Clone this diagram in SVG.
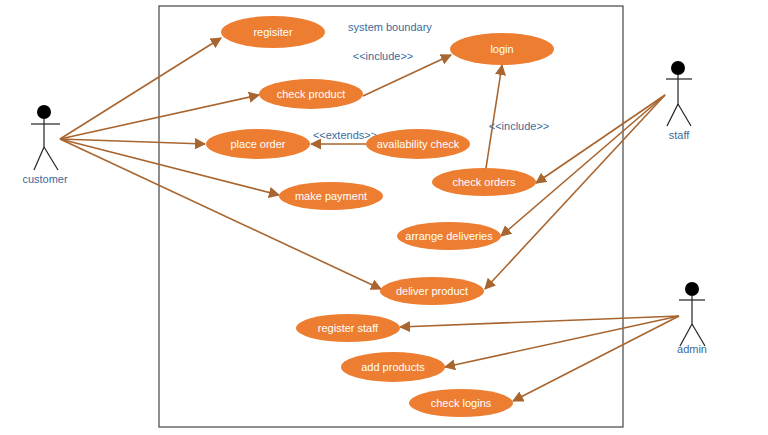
<svg xmlns="http://www.w3.org/2000/svg" width="768" height="435" viewBox="0 0 768 435">
<style>
.uc{fill:#ed7d31}
.ut{fill:#fff;font:11px "Liberation Sans",Arial,sans-serif;text-anchor:middle}
.lb{fill:#3b6a9c;font:11px "Liberation Sans",Arial,sans-serif;text-anchor:middle}
.e{stroke:#a8652f;stroke-width:1.6;fill:none;marker-end:url(#a)}
.act line{stroke:#222;stroke-width:1.2}
</style>
<defs><marker id="a" viewBox="0 0 10 10" refX="9" refY="5" markerWidth="7" markerHeight="7" orient="auto"><path d="M0,0L10,5L0,10z" fill="#a8652f"/></marker></defs>
<rect width="768" height="435" fill="#fff"/>
<rect x="159" y="6" width="464" height="421" fill="none" stroke="#444" stroke-width="1.2"/>
<text class="lb" x="390" y="31">system boundary</text>
<g id="customer" class="act"><circle cx="44" cy="112" r="7" fill="#000"/><line x1="31" y1="124" x2="60" y2="124"/><line x1="44" y1="119" x2="44" y2="147"/><line x1="44" y1="147" x2="34" y2="170"/><line x1="44" y1="147" x2="58" y2="170"/><text class="lb" x="45" y="183">customer</text></g>
<g id="staff" class="act"><circle cx="678" cy="68" r="7" fill="#000"/><line x1="666" y1="79" x2="692" y2="79"/><line x1="678" y1="75" x2="678" y2="104"/><line x1="678" y1="104" x2="667" y2="126"/><line x1="678" y1="104" x2="691" y2="126"/><text class="lb" x="679" y="139">staff</text></g>
<g id="admin" class="act"><circle cx="692" cy="289" r="7" fill="#000"/><line x1="679" y1="300" x2="705" y2="300"/><line x1="692" y1="296" x2="692" y2="324"/><line x1="692" y1="324" x2="680" y2="346"/><line x1="692" y1="324" x2="705" y2="346"/><text class="lb" x="692" y="353">admin</text></g>
<g id="connectors">
<line class="e" x1="60" y1="139" x2="221" y2="38"/>
<line class="e" x1="60" y1="139" x2="259" y2="95"/>
<line class="e" x1="60" y1="139" x2="205" y2="144"/>
<line class="e" x1="60" y1="139" x2="279" y2="195"/>
<line class="e" x1="60" y1="139" x2="381" y2="289"/>
<line class="e" x1="363" y1="96" x2="451" y2="55"/>
<line class="e" x1="366" y1="144" x2="311" y2="144"/>
<line class="e" x1="486" y1="168" x2="502" y2="65"/>
<line class="e" x1="665" y1="95" x2="536" y2="183"/>
<line class="e" x1="665" y1="95" x2="501" y2="236"/>
<line class="e" x1="665" y1="95" x2="485" y2="289"/>
<line class="e" x1="679" y1="316" x2="400" y2="327"/>
<line class="e" x1="679" y1="316" x2="445" y2="367"/>
<line class="e" x1="679" y1="316" x2="513" y2="401"/>
<text class="lb" x="383" y="60">&lt;&lt;include&gt;&gt;</text>
<text class="lb" x="345" y="139">&lt;&lt;extends&gt;&gt;</text>
<text class="lb" x="519" y="130">&lt;&lt;include&gt;&gt;</text>
</g>
<g id="registser"><ellipse class="uc" cx="273" cy="32" rx="52" ry="16"/><text class="ut" x="273" y="36">regisiter</text></g>
<g id="login"><ellipse class="uc" cx="502" cy="49" rx="52" ry="16"/><text class="ut" x="502" y="53">login</text></g>
<g id="check-product"><ellipse class="uc" cx="311" cy="94" rx="52" ry="15"/><text class="ut" x="311" y="98">check product</text></g>
<g id="place-order"><ellipse class="uc" cx="258" cy="144" rx="52" ry="15"/><text class="ut" x="258" y="148">place order</text></g>
<g id="availability-check"><ellipse class="uc" cx="418" cy="144" rx="52" ry="15"/><text class="ut" x="418" y="148">availability check</text></g>
<g id="check-orders"><ellipse class="uc" cx="484" cy="182" rx="52" ry="14"/><text class="ut" x="484" y="186">check orders</text></g>
<g id="make-payment"><ellipse class="uc" cx="331" cy="196" rx="52" ry="14"/><text class="ut" x="331" y="200">make payment</text></g>
<g id="arrange-deliveries"><ellipse class="uc" cx="449" cy="236" rx="52" ry="14"/><text class="ut" x="449" y="240">arrange deliveries</text></g>
<g id="deliver-product"><ellipse class="uc" cx="432" cy="291" rx="52" ry="14"/><text class="ut" x="432" y="295">deliver product</text></g>
<g id="register-staff"><ellipse class="uc" cx="348" cy="328" rx="52" ry="14"/><text class="ut" x="348" y="332">register staff</text></g>
<g id="add-products"><ellipse class="uc" cx="393" cy="367" rx="52" ry="15"/><text class="ut" x="393" y="371">add products</text></g>
<g id="check-logins"><ellipse class="uc" cx="461" cy="403" rx="52" ry="14"/><text class="ut" x="461" y="407">check logins</text></g>
</svg>
